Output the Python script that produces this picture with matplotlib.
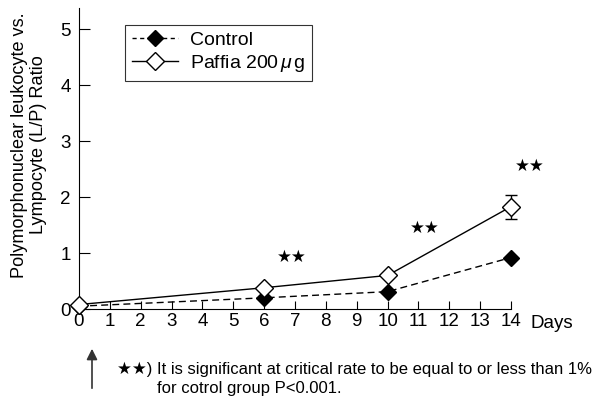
import numpy as np
import matplotlib
matplotlib.use('Agg')
import matplotlib.pyplot as plt
from matplotlib.lines import Line2D

plt.rcParams['font.family'] = ['Liberation Sans', 'DejaVu Sans']
plt.rcParams['mathtext.fontset'] = 'custom'
plt.rcParams['mathtext.it'] = 'Liberation Sans:italic'

days = [0, 6, 10, 14]
control = [0.05, 0.20, 0.31, 0.92]
paffia = [0.08, 0.38, 0.60, 1.83]
paffia_err_low = [0, 0, 0, 0.22]
paffia_err_high = [0, 0, 0, 0.21]
star_x = [6.9, 11.2, 14.6]
star_y = [0.93, 1.44, 2.55]
xticks = list(range(0, 15))
yticks = [0, 1, 2, 3, 4, 5]

fig = plt.figure(figsize=(5.94, 4.0), dpi=100)
ax = fig.add_axes([79 / 594, 1 - 309 / 400, 432 / 594, 301 / 400])

ax.plot(days, control, color='black', ls=(0, (5, 3)), lw=1.0, marker='D',
        ms=8.5, mfc='black', mec='black', clip_on=False, zorder=3)
ax.errorbar(days, paffia, yerr=[paffia_err_low, paffia_err_high],
            color='black', ls='-', lw=1.0, marker='D', ms=9.5, mfc='white',
            mec='black', mew=1.0, capsize=4, elinewidth=1.0,
            clip_on=False, zorder=4)

for sx, sy in zip(star_x, star_y):
    ax.text(sx, sy, '\u2605\u2605', ha='center', va='center', fontsize=12)

ax.set_xlim(0, 14)
ax.set_ylim(0, 5.38)
ax.set_xticks(xticks)
ax.set_yticks(yticks)
ax.spines['top'].set_visible(False)
ax.spines['right'].set_visible(False)
ax.tick_params(axis='x', direction='in', length=6, labelsize=13.5, pad=3)
ax.tick_params(axis='y', direction='in', length=8, labelsize=13.5, pad=6)

ax.text(14.62, -0.26, 'Days', ha='left', va='center', fontsize=13.5)

ax.set_ylabel('Polymorphonuclear leukocyte vs.\nLympocyte (L/P) Ratio',
              fontsize=13.1, linespacing=1.12)
ax.yaxis.set_label_coords(-0.074, 0.545)

handles = [
    Line2D([], [], color='black', ls=(0, (3, 2.5)), lw=1.0, marker='D', ms=8,
           mfc='black', mec='black'),
    Line2D([], [], color='black', ls='-', lw=1.0, marker='D', ms=9,
           mfc='white', mec='black'),
]
leg = ax.legend(handles, ['Control', 'Paffia 200$\\,\\mu\\,$g'], loc='upper left',
                bbox_to_anchor=(0.106, 0.945), fontsize=14, frameon=True,
                fancybox=False, edgecolor='black', handlelength=2.4,
                borderpad=0.35, labelspacing=0.2, handletextpad=0.6,
                borderaxespad=0)
leg.get_frame().set_linewidth(0.8)

fig.text(117 / 594, 1 - 369 / 400,
         '\u2605\u2605) It is significant at critical rate to be equal to or less than 1%',
         ha='left', va='center', fontsize=12)
fig.text(157 / 594, 1 - 388 / 400, 'for cotrol group P<0.001.',
         ha='left', va='center', fontsize=12)

ax.annotate('', xy=(92 / 594, 1 - 346 / 400), xytext=(92 / 594, 1 - 391 / 400),
            xycoords='figure fraction', textcoords='figure fraction',
            arrowprops=dict(arrowstyle='-|>', color='#333333', lw=1.2,
                            mutation_scale=16))

fig.savefig('out.png', dpi=100)
